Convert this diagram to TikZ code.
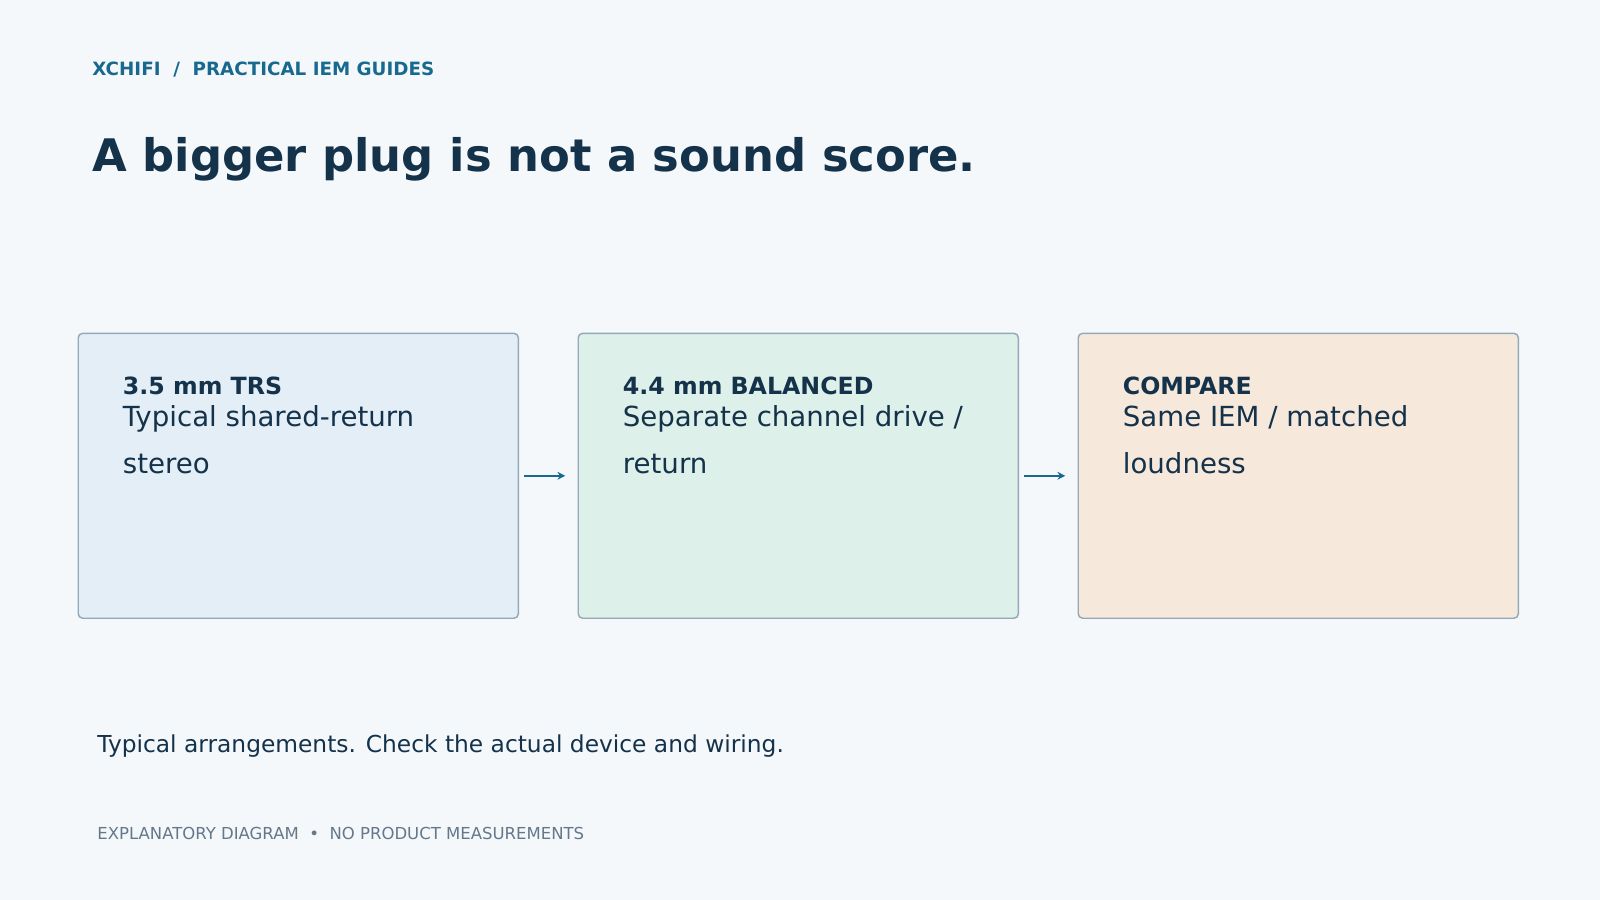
\documentclass[tikz,border=0pt]{standalone}
\usepackage{fontspec}
\setmainfont{DejaVu Sans}
\usetikzlibrary{positioning,arrows.meta}
\definecolor{bgcol}{HTML}{F4F8FB}
\definecolor{ink}{HTML}{15324B}
\definecolor{accent}{HTML}{17698F}
\definecolor{edge}{HTML}{94A9B8}
\definecolor{muted}{HTML}{64788A}
\definecolor{fillA}{HTML}{E3EEF7}
\definecolor{fillB}{HTML}{DDF0E9}
\definecolor{fillC}{HTML}{F7E8DC}
\tikzset{
  card/.style={draw=edge, line width=0.4pt, rounded corners=1.2pt, minimum width=4.31cm, minimum height=2.79cm, inner sep=0pt},
  cardhead/.style={anchor=base west, text=ink, font=\fontsize{6.6}{8}\selectfont\bfseries},
  cardbody/.style={anchor=base west, text=ink, align=left, font=\fontsize{7.7}{13}\selectfont},
  flow/.style={-{Stealth[length=2.2pt,width=2.2pt]}, accent, line width=0.6pt, shorten <=5\pgflinewidth}
}
\begin{document}
\begin{tikzpicture}[x=0.01cm,y=-0.01cm]
  \fill[bgcol] (0,0) rectangle (1568,882);
  \useasboundingbox (0,0) rectangle (1568,882);

  \node (kicker) [anchor=base west, text=accent, font=\fontsize{5.1}{6}\selectfont\bfseries] at (78,74) {XCHIFI \ / \ PRACTICAL IEM GUIDES};
  \node (title) [anchor=base west, text=ink, font=\fontsize{12.5}{14}\selectfont\bfseries] at (78,168) {A bigger plug is not a sound score.};

  \node (trs) [card, fill=fillA, anchor=north west] at (76,326) {};
  \node (bal) [card, fill=fillB, anchor=north west] at (566,326) {};
  \node (cmp) [card, fill=fillC, anchor=north west] at (1056,326) {};

  \node (trshead) [cardhead] at (108,387) {3.5 mm TRS};
  \node (trsbody) [cardbody] at (108,464) {Typical shared-return\\stereo};
  \node (balhead) [cardhead] at (598,387) {4.4 mm BALANCED};
  \node (balbody) [cardbody] at (598,464) {Separate channel drive /\\return};
  \node (cmphead) [cardhead] at (1088,387) {COMPARE};
  \node (cmpbody) [cardbody] at (1088,464) {Same IEM / matched\\loudness};

  \draw[flow, shorten <=5\pgflinewidth*0+0.05cm, shorten >=0.12cm] (trs.east) -- (bal.west);
  \draw[flow, shorten <=0.05cm, shorten >=0.12cm] (bal.east) -- (cmp.west);

  \node (note) [anchor=base west, text=ink, font=\fontsize{6.5}{8}\selectfont] at (83,737) {Typical arrangements. Check the actual device and wiring.};
  \node (foot) [anchor=base west, text=muted, font=\fontsize{4.6}{6}\selectfont] at (83,823) {EXPLANATORY DIAGRAM \ • \ NO PRODUCT MEASUREMENTS};
\end{tikzpicture}
\end{document}
